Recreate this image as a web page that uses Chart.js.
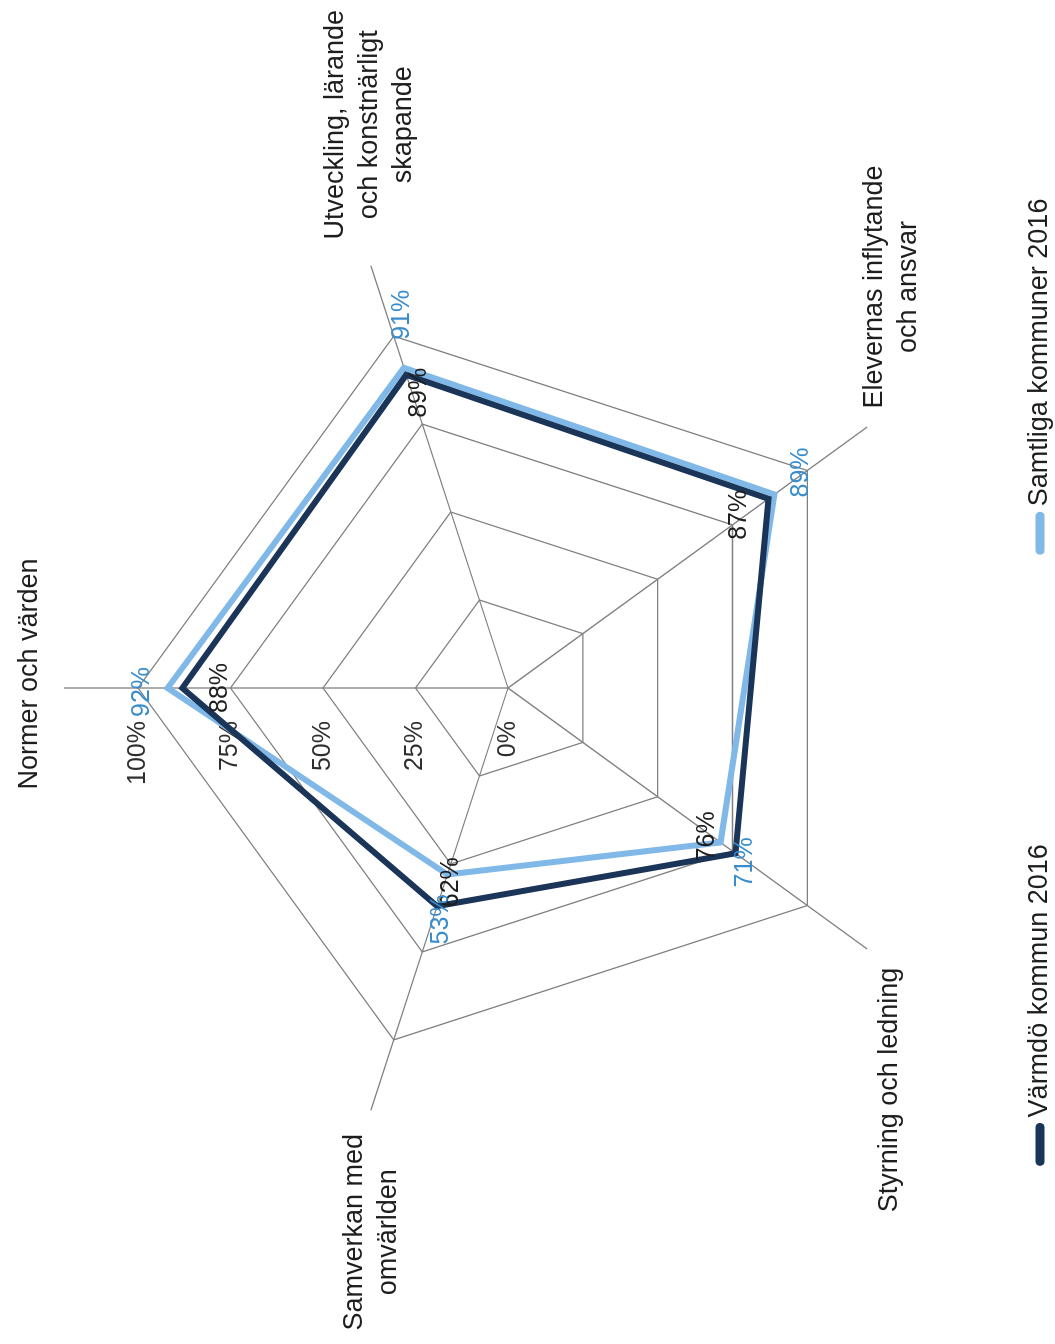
<!DOCTYPE html>
<html>
<head>
<meta charset="utf-8">
<script src="https://cdn.jsdelivr.net/npm/chart.js@4.4.1/dist/chart.umd.min.js"></script>
<style>
  html, body { margin: 0; padding: 0; background: #fff; width: 1055px; height: 1344px; overflow: hidden; }
  /* the scanned page is turned a quarter turn, so the chart is drawn upright and rotated */
  #wrap { position: absolute; left: 0; top: 0; width: 1344px; height: 1055px;
          transform-origin: 0 0; transform: translate(0, 1344px) rotate(-90deg); }
</style>
</head>
<body>
<div id="wrap"><canvas id="radarChart" width="1344" height="1055"></canvas></div>
<script>
const categories = [
    ['Normer och värden'],
    ['Utveckling, lärande', 'och konstnärligt', 'skapande'],
    ['Elevernas inflytande', 'och ansvar'],
    ['Styrning och ledning'],
    ['Samverkan med', 'omvärlden']
];
const varmdo2016 = [88, 89, 87, 76, 62];
const samtliga2016 = [92, 91, 89, 71, 53];
const tickValues = [0, 25, 50, 75, 100];
const seriesNames = ['Värmdö kommun 2016', 'Samtliga kommuner 2016'];

// text placement, in unrotated chart pixels
const valueLabelOffsets = [
    [[0, 38], [-18, 13], [-16, -29], [17, -28], [24, 14]],
    [[-4, -25], [53, -2], [22, 27], [-20, 25], [-45, -6]]
];
const valueLabelColors = ['#1e1e1e', '#3a8dcc'];
const categoryOffsets = [[14, -27], [141, -28], [140, 15], [-141, 30], [-122, -9]];

const FONT = '"Liberation Sans", Arial, sans-serif';

// tick labels left of the vertical axis
const tickLabels = {
    id: 'tickLabels',
    beforeDatasetsDraw(chart) {
        const s = chart.scales.r;
        const ctx = chart.ctx;
        ctx.save();
        ctx.font = '25px ' + FONT;
        ctx.fillStyle = '#2e2e2e';
        ctx.textAlign = 'right';
        ctx.textBaseline = 'middle';
        tickValues.forEach(v => {
            const d = s.getDistanceFromCenterForValue(v);
            ctx.fillText(v + '%', s.xCenter - 33, s.yCenter - d);
        });
        ctx.restore();
    }
};

const valueLabels = {
    id: 'valueLabels',
    afterDatasetsDraw(chart) {
        const ctx = chart.ctx;
        ctx.save();
        ctx.font = '25px ' + FONT;
        ctx.textAlign = 'center';
        ctx.textBaseline = 'middle';
        chart.data.datasets.forEach((ds, di) => {
            const meta = chart.getDatasetMeta(di);
            ctx.fillStyle = valueLabelColors[di];
            meta.data.forEach((pt, i) => {
                const off = valueLabelOffsets[di][i];
                ctx.fillText(ds.data[i] + '%', pt.x + off[0], pt.y + off[1]);
            });
        });
        ctx.restore();
    }
};

const categoryLabels = {
    id: 'categoryLabels',
    afterDraw(chart) {
        const s = chart.scales.r;
        const ctx = chart.ctx;
        ctx.save();
        ctx.font = '27px ' + FONT;
        ctx.fillStyle = '#1e1e1e';
        ctx.textAlign = 'center';
        ctx.textBaseline = 'alphabetic';
        chart.data.labels.forEach((lines, i) => {
            const p = s.getPointPositionForValue(i, s.max);
            lines.forEach((line, k) => {
                ctx.fillText(line, p.x + categoryOffsets[i][0], p.y + categoryOffsets[i][1] + k * 34);
            });
        });
        ctx.restore();
    }
};

const legendRow = {
    id: 'legendRow',
    afterDraw(chart) {
        const s = chart.scales.r;
        const ctx = chart.ctx;
        const lineLen = 42, gap = 6, itemGap = 290, y = 1040;
        ctx.save();
        ctx.font = '27px ' + FONT;
        const items = chart.data.datasets.map(ds => ({
            text: ds.label, color: ds.borderColor,
            w: lineLen + gap + ctx.measureText(ds.label).width
        }));
        const total = items.reduce((a, it) => a + it.w, 0) + itemGap * (items.length - 1);
        let x = s.xCenter + 6 - total / 2;
        items.forEach(it => {
            ctx.strokeStyle = it.color;
            ctx.lineWidth = 9;
            ctx.lineCap = 'round';
            ctx.beginPath();
            ctx.moveTo(x + 4, y);
            ctx.lineTo(x + lineLen - 4, y);
            ctx.stroke();
            ctx.fillStyle = '#1e1e1e';
            ctx.textAlign = 'left';
            ctx.textBaseline = 'middle';
            ctx.fillText(it.text, x + lineLen + gap, y);
            x += it.w + itemGap;
        });
        ctx.restore();
    }
};

new Chart(document.getElementById('radarChart'), {
    type: 'radar',
    data: {
        labels: categories,
        datasets: [{
            label: seriesNames[0],
            data: varmdo2016,
            borderColor: '#1b3558',
            backgroundColor: 'transparent',
            borderWidth: 6,
            borderJoinStyle: 'miter',
            pointRadius: 0,
            fill: false
        }, {
            label: seriesNames[1],
            data: samtliga2016,
            borderColor: '#80b8e8',
            backgroundColor: 'transparent',
            borderWidth: 6,
            borderJoinStyle: 'miter',
            pointRadius: 0,
            fill: false
        }]
    },
    options: {
        responsive: false,
        animation: false,
        layout: { padding: { left: 212, top: 64, right: 244, bottom: 103 } },
        scales: {
            r: {
                min: 0,
                max: 120,
                afterBuildTicks: scale => { scale.ticks = tickValues.map(v => ({ value: v })); },
                ticks: { display: false },
                grid: { color: '#808080', lineWidth: 1.3 },
                angleLines: { color: '#808080', lineWidth: 1.3 },
                pointLabels: { display: false }
            }
        },
        plugins: {
            legend: { display: false },
            tooltip: { enabled: false }
        }
    },
    plugins: [tickLabels, valueLabels, categoryLabels, legendRow]
});
</script>
</body>
</html>
